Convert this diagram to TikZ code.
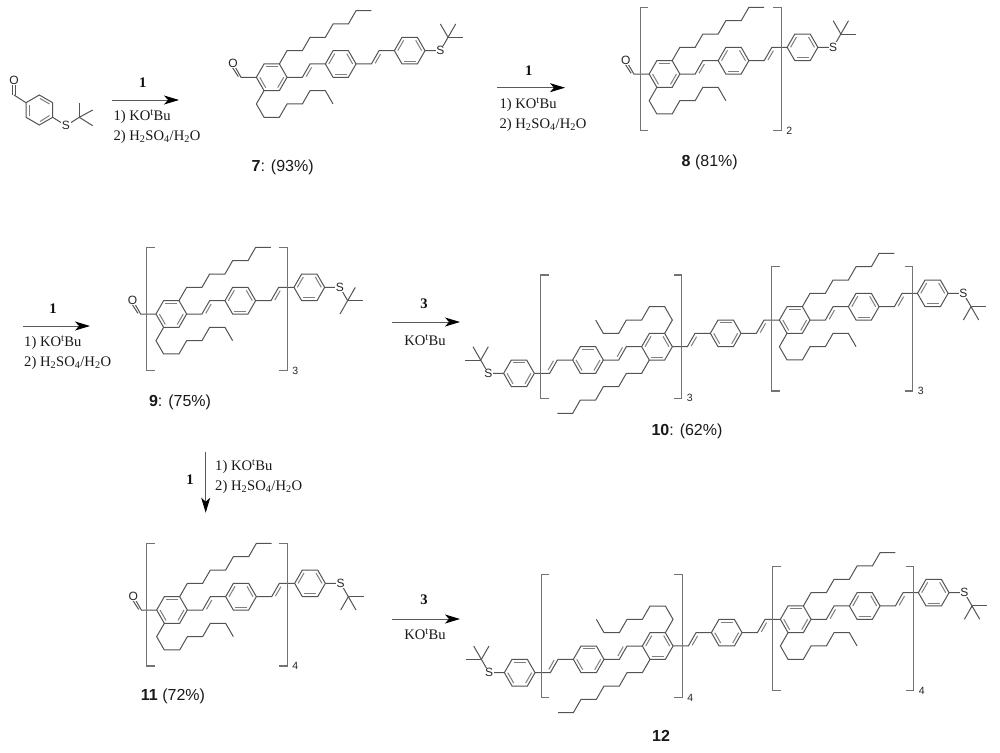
\documentclass[tikz,border=0pt]{standalone}
\usepackage{fontspec}
\setmainfont{Liberation Serif}
\newfontfamily\lsans{Liberation Sans}
\usetikzlibrary{arrows.meta}
\definecolor{bondc}{gray}{0.33}
\definecolor{brackc}{gray}{0.45}
\tikzset{
  gridframe/.style={x=7.667pt,y=-13.33pt},
  bond/.style={draw=bondc,line width=1pt,line join=miter},
  inner/.style={draw=bondc!75,line width=1pt},
  atom/.style={font=\lsans\fontsize{12}{13}\selectfont,text=black!85,fill=white,inner sep=0.6pt},
  brack/.style={draw=brackc,line width=1.2pt},
  subn/.style={font=\lsans\fontsize{10.5}{11}\selectfont,text=black!85,inner sep=0pt},
  cmpd/.style={font=\lsans\fontsize{16}{18}\selectfont,text=black!90,inner sep=0pt},
  rtext/.style={font=\fontsize{14.6}{16}\selectfont,text=black!90,inner sep=0pt,anchor=west},
  rnum/.style={font=\bfseries\fontsize{14.6}{16}\selectfont,text=black!95,inner sep=0pt},
  rarrow/.style={draw=black!65,line width=1pt,-{Stealth[length=15pt,width=9pt,inset=4pt,color=black]}},
}
\newcommand{\hexbase}[2]{\draw[bond,shift={(#1,#2)}] (-2,0)--(-1,-1)--(1,-1)--(2,0)--(1,1)--(-1,1)--cycle;}
% inner bonds: top, lower left, lower right
\newcommand{\hexA}[2]{\hexbase{#1}{#2}\begin{scope}[shift={(#1,#2)}]
  \draw[inner] (-.78,-.78)--(.78,-.78);\draw[inner] (1.56,0)--(.78,.78);\draw[inner] (-1.56,0)--(-.78,.78);\end{scope}}
% inner bonds: bottom, upper left, upper right
\newcommand{\hexB}[2]{\hexbase{#1}{#2}\begin{scope}[shift={(#1,#2)}]
  \draw[inner] (-.78,.78)--(.78,.78);\draw[inner] (1.56,0)--(.78,-.78);\draw[inner] (-1.56,0)--(-.78,-.78);\end{scope}}
% vinylene, running from (x,y) to (x+5,y-1)
\newcommand{\vinyl}[2]{\begin{scope}[shift={(#1,#2)}]
  \draw[bond] (0,0)--(2,0)--(3,-1)--(5,-1);\draw[inner] (2.5,-.05)--(3.2,-.75);\end{scope}}
\newcommand{\monomer}{%
  \hexA{0}{0}\vinyl{2}{0}\hexB{9}{-1}\vinyl{11}{-1}
  \draw[bond] (1,-1)--(2,-2)--(4,-2)--(5,-3)--(7,-3)--(8,-4)--(10,-4)--(11,-5)--(13,-5);
  \draw[bond] (-1,1)--(-2,2)--(-1,3)--(1,3)--(2,2)--(4,2)--(5,1)--(7,1)--(8,2);}
% end ring and S-C bond; #1 is the tert-butyl carbon, followed by branches
\newcommand{\capend}[5]{%
  \hexB{18}{-2}
  \draw[bond] (20,-2)--(22,-2)--#1;
  \draw[bond] #1--#2;\draw[bond] #1--#3;\draw[bond] #1--#4;
  \node[atom] (#5) at (22,-2) {S};}
\newcommand{\capup}[1]{\capend{(23,-3)}{(22,-4)}{(24,-4)}{(25,-3)}{#1}}
\newcommand{\capmid}[1]{\capend{(23,-1)}{(24,-2)}{(25,-1)}{(22,0)}{#1}}
\newcommand{\capdown}[1]{\capend{(23,-1)}{(22,0)}{(24,0)}{(25,-1)}{#1}}
\newcommand{\cho}[1]{%
  \draw[bond] (-2,0)--(-4,0)--(-5,-1);\draw[bond] (-4.35,-.05)--(-5.25,-.85);
  \node[atom] (#1) at (-5.05,-1.05) {O};}
% brackets: x1 x2 y1 y2 subscript name
\newcommand{\brk}[6]{%
  \draw[brack] (#1+8,#3)--(#1,#3)--(#1,#4)--(#1+8,#4);
  \draw[brack] (#2-8,#3)--(#2,#3)--(#2,#4)--(#2-8,#4);
  \node[subn] (#6) at (#2+8,#4) {#5};}
\newcommand{\KOB}{KO\textsuperscript{t}Bu}
\newcommand{\acid}{2) H\textsubscript{2}SO\textsubscript{4}/H\textsubscript{2}O}
% horizontal arrow with text: x1 x2 y name
\newcommand{\harrow}[4]{%
  \coordinate (#4a) at (#1,#3);\coordinate (#4b) at (#2,#3);
  \draw[rarrow] (#4a)--(#4b);}
\begin{document}
\begin{tikzpicture}[x=1pt,y=-1pt]
\useasboundingbox (0,0) rectangle (1000,752);
\fill[white] (0,0) rectangle (1000,752);

% starting aldehyde
\coordinate (a1) at (26,102.7);\coordinate (a2) at (39.3,95);\coordinate (a3) at (52.7,102.7);
\coordinate (a4) at (52.7,117.3);\coordinate (a5) at (39.3,125);\coordinate (a6) at (26,117.3);
\draw[bond] (a1)--(a2)--(a3)--(a4)--(a5)--(a6)--cycle;
\draw[inner] (40,98.5)--(49.5,104);\draw[inner] (49.5,115.5)--(40,121.5);\draw[inner] (29,115.5)--(29,104.5);
\coordinate (ac) at (14,95);\coordinate (atb) at (79.3,117.3);
\coordinate (at1) at (79.3,102.7);\coordinate (at2) at (92.7,110);\coordinate (at3) at (92.7,125.7);
\draw[bond] (a1)--(ac);
\draw[bond] (12.5,95)--(12.5,83);\draw[bond] (15.5,95)--(15.5,83);
\node[atom] (ao) at (14,80) {O};
\draw[bond] (a4)--(66,125.7)--(atb);
\draw[bond] (atb)--(at1);\draw[bond] (atb)--(at2);\draw[bond] (atb)--(at3);
\node[atom] (as) at (66,125.7) {S};

% 7
\begin{scope}[shift={(271.7,77.3)},gridframe]\monomer\capup{s7}\cho{o7}\end{scope}
\node[cmpd] (l7) at (282.7,167) {\textbf{7}: (93\%)};
% 8
\begin{scope}[shift={(664.5,74)},gridframe]\monomer\capup{s8}\cho{o8}\end{scope}
\brk{640.3}{781.3}{7.3}{130.7}{2}{n8}
\node[cmpd] (l8) at (709.7,162.7) {\textbf{8} (81\%)};
% 9
\begin{scope}[shift={(171.3,314)},gridframe]\monomer\capmid{s9}\cho{o9}\end{scope}
\brk{146.7}{287.3}{247.3}{370.7}{3}{n9}
\node[cmpd] (l9) at (180,402.7) {\textbf{9}: (75\%)};
% 11
\begin{scope}[shift={(172,610)},gridframe]\monomer\capdown{s11}\cho{o11}\end{scope}
\brk{146.7}{287.3}{543.3}{666}{4}{n11}
\node[cmpd] (l11) at (173,696.7) {\textbf{11} (72\%)};
% 10
\begin{scope}[shift={(794.7,320)},gridframe]
  \monomer\capdown{s10r}
  \vinyl{-7}{1}\hexA{-9}{1}\vinyl{-16}{2}
\end{scope}
\begin{scope}[shift={(657,346.7)},gridframe,xscale=-1,yscale=-1]\monomer\capdown{s10l}\end{scope}
\brk{771.7}{912.7}{266.7}{391}{3}{n10r}
\brk{540.7}{681.7}{275}{398.3}{3}{n10l}
\node[cmpd] (l10) at (687,431) {\textbf{10}: (62\%)};
% 12
\begin{scope}[shift={(795.7,619.3)},gridframe]
  \monomer\capdown{s12r}
  \vinyl{-7}{1}\hexA{-9}{1}\vinyl{-16}{2}
\end{scope}
\begin{scope}[shift={(657.7,646)},gridframe,xscale=-1,yscale=-1]\monomer\capdown{s12l}\end{scope}
\brk{772.7}{913.7}{566.7}{690.7}{4}{n12r}
\brk{541.3}{682.3}{574.7}{697.7}{4}{n12l}
\node[cmpd] (l12) at (661,736) {\textbf{12}};

% arrows and reagents
\harrow{112.3}{179}{100}{ar1}
\node[rnum] (r1) at (142.7,83) {1};
\node[rtext] (r1a) at (113.3,117) {1) \KOB};
\node[rtext] (r1b) at (113.3,137) {\acid};

\harrow{497.3}{565}{87.7}{ar2}
\node[rnum] (r2) at (528.7,70.7) {1};
\node[rtext] (r2a) at (499.3,105) {1) \KOB};
\node[rtext] (r2b) at (499.3,125) {\acid};

\harrow{23}{90}{326}{ar3}
\node[rnum] (r3) at (53,309) {1};
\node[rtext] (r3a) at (24,343) {1) \KOB};
\node[rtext] (r3b) at (24,363) {\acid};

\harrow{392}{460}{322}{ar4}
\node[rnum] (r4) at (424,304) {3};
\node[rtext,anchor=center] (r4a) at (425,340) {\KOB};

\harrow{392}{460}{619}{ar5}
\node[rnum] (r5) at (424,600) {3};
\node[rtext,anchor=center] (r5a) at (425,634) {\KOB};

\coordinate (ar6a) at (205.7,452.3);\coordinate (ar6b) at (205.7,512.7);
\draw[rarrow] (ar6a)--(ar6b);
\node[rnum] (r6) at (190,480) {1};
\node[rtext] (r6a) at (215,466.7) {1) \KOB};
\node[rtext] (r6b) at (215,486.7) {\acid};
\end{tikzpicture}
\end{document}
